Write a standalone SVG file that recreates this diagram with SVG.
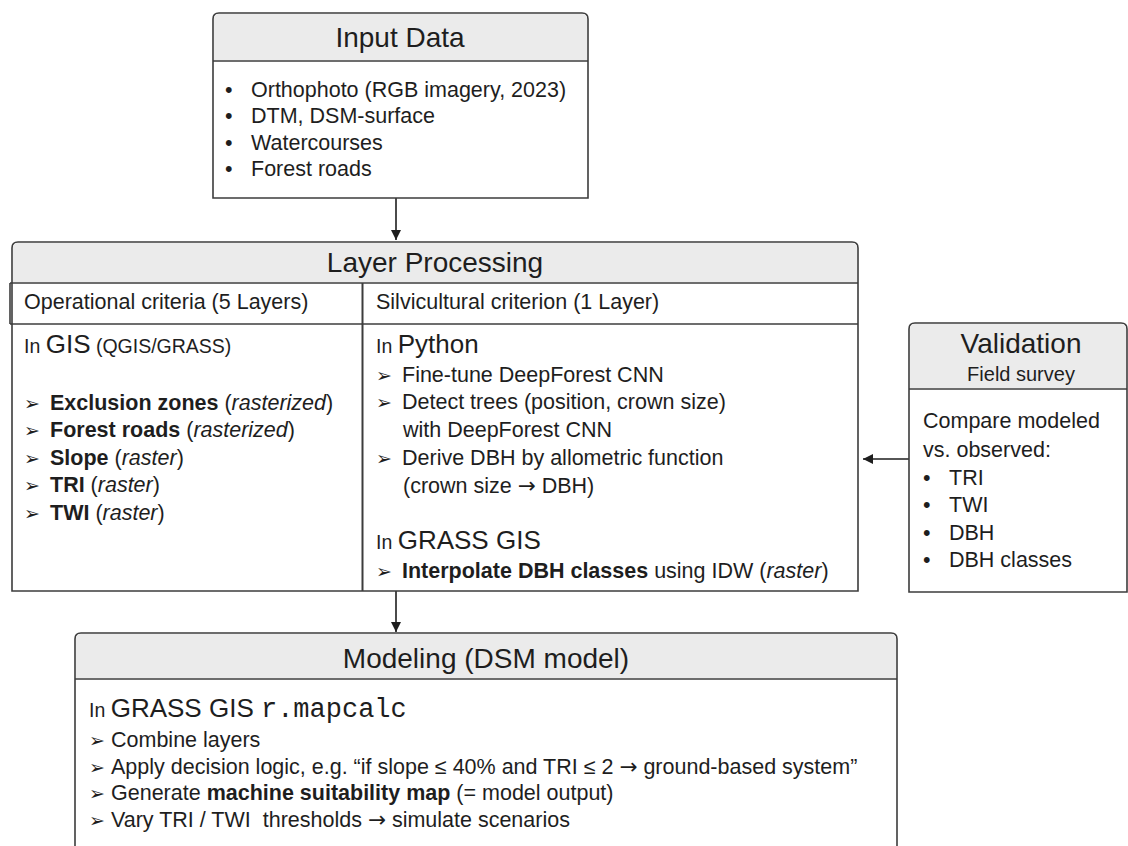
<svg xmlns="http://www.w3.org/2000/svg" width="1128" height="846" viewBox="0 0 1128 846">
<style>
.box{fill:#ffffff;stroke:#3c3c3c;stroke-width:1.6}
.hdr{fill:#ebebeb;stroke:none}
.ln{stroke:#3c3c3c;stroke-width:1.6;fill:none}
text{font-family:"Liberation Sans",Arial,sans-serif;fill:#1e1e1e}
.title{font-size:28px;text-anchor:middle}
.body{font-size:21.5px}
.small{font-size:19.5px}
.big{font-size:26px}
.b{font-weight:bold}
.i{font-style:italic}
.ar{font-family:"DejaVu Sans",sans-serif;font-size:19px;font-weight:bold}
.arr{font-family:"DejaVu Sans",sans-serif}
.mono{font-family:"Liberation Mono","Courier New",monospace;font-size:27px}
.conn{stroke:#1e1e1e;stroke-width:1.6;fill:none}
</style>
<defs>
<marker id="ah" viewBox="0 0 10 10" refX="10" refY="5" markerWidth="10" markerHeight="10" markerUnits="userSpaceOnUse" orient="auto">
<path d="M0,0 L10,5 L0,10 Z" fill="#1e1e1e"/>
</marker>
</defs>

<g id="connectors">
<line class="conn" x1="396" y1="198" x2="396" y2="240" marker-end="url(#ah)"/>
<line class="conn" x1="396" y1="591" x2="396" y2="632" marker-end="url(#ah)"/>
<line class="conn" x1="909" y1="459" x2="863" y2="459" marker-end="url(#ah)"/>
</g>

<g id="input-data">
<path class="box" d="M213,198 V19 Q213,13 219,13 H582 Q588,13 588,19 V198 Z"/>
<path class="hdr" d="M214,60 V19 Q214,14 219,14 H582 Q587,14 587,19 V60 Z"/>
<line class="ln" x1="213" y1="61" x2="588" y2="61"/>
<text class="title" x="400" y="47">Input Data</text>
<text class="body" x="225" y="97">•</text><text class="body" x="251" y="97">Orthophoto (RGB imagery, 2023)</text>
<text class="body" x="225" y="123">•</text><text class="body" x="251" y="123">DTM, DSM-surface</text>
<text class="body" x="225" y="149.5">•</text><text class="body" x="251" y="149.5">Watercourses</text>
<text class="body" x="225" y="176">•</text><text class="body" x="251" y="176">Forest roads</text>
</g>

<g id="layer-processing">
<path class="box" d="M12,591 V248 Q12,242 18,242 H852 Q858,242 858,248 V591 Z"/>
<path class="hdr" d="M13,282 V248 Q13,243 18,243 H852 Q857,243 857,248 V282 Z"/>
<line class="ln" x1="10" y1="283" x2="858" y2="283"/>
<line class="ln" x1="10" y1="324" x2="858" y2="324"/>
<line class="ln" x1="10" y1="283" x2="10" y2="324"/>
<line class="ln" x1="362.5" y1="283" x2="362.5" y2="591" style="stroke-width:2"/>
<text class="title" x="435" y="272">Layer Processing</text>
<text class="body" x="24" y="309">Operational criteria (5 Layers)</text>
<text class="body" x="376" y="309">Silvicultural criterion (1 Layer)</text>

<text x="24" y="353"><tspan class="small">In </tspan><tspan class="big">GIS</tspan><tspan class="small"> (QGIS/GRASS)</tspan></text>
<text class="ar" x="24" y="410">➢</text><text class="body" x="50" y="410"><tspan class="b">Exclusion zones</tspan> (<tspan class="i">rasterized</tspan>)</text>
<text class="ar" x="24" y="437">➢</text><text class="body" x="50" y="437"><tspan class="b">Forest roads</tspan> (<tspan class="i">rasterized</tspan>)</text>
<text class="ar" x="24" y="465">➢</text><text class="body" x="50" y="465"><tspan class="b">Slope</tspan> (<tspan class="i">raster</tspan>)</text>
<text class="ar" x="24" y="492">➢</text><text class="body" x="50" y="492"><tspan class="b">TRI</tspan> (<tspan class="i">raster</tspan>)</text>
<text class="ar" x="24" y="520">➢</text><text class="body" x="50" y="520"><tspan class="b">TWI</tspan> (<tspan class="i">raster</tspan>)</text>

<text x="376" y="353"><tspan class="small">In </tspan><tspan class="big">Python</tspan></text>
<text class="ar" x="376" y="382">➢</text><text class="body" x="402" y="382">Fine-tune DeepForest CNN</text>
<text class="ar" x="376" y="409">➢</text><text class="body" x="402" y="409">Detect trees (position, crown size)</text>
<text class="body" x="403" y="437">with DeepForest CNN</text>
<text class="ar" x="376" y="465">➢</text><text class="body" x="402" y="465">Derive DBH by allometric function</text>
<text class="body" x="403" y="493">(crown size <tspan class="arr">→</tspan> DBH)</text>
<text x="376" y="549"><tspan class="small">In </tspan><tspan class="big">GRASS GIS</tspan></text>
<text class="ar" x="376" y="578">➢</text><text class="body" x="402" y="578"><tspan class="b">Interpolate DBH classes</tspan> using IDW (<tspan class="i">raster</tspan>)</text>
</g>

<g id="validation">
<path class="box" d="M909,592 V329 Q909,323 915,323 H1121 Q1127,323 1127,329 V592 Z"/>
<path class="hdr" d="M910,388 V329 Q910,324 915,324 H1121 Q1126,324 1126,329 V388 Z"/>
<line class="ln" x1="909" y1="389" x2="1127" y2="389"/>
<text class="title" x="1021" y="353">Validation</text>
<text x="1021" y="381" text-anchor="middle" style="font-size:20px">Field survey</text>
<text class="body" x="923" y="428">Compare modeled</text>
<text class="body" x="923" y="457">vs. observed:</text>
<text class="body" x="923" y="485">•</text><text class="body" x="949" y="485">TRI</text>
<text class="body" x="923" y="512">•</text><text class="body" x="949" y="512">TWI</text>
<text class="body" x="923" y="540">•</text><text class="body" x="949" y="540">DBH</text>
<text class="body" x="923" y="567">•</text><text class="body" x="949" y="567">DBH classes</text>
</g>

<g id="modeling">
<path class="box" d="M75,852 V639 Q75,633 81,633 H891 Q897,633 897,639 V852 Z"/>
<path class="hdr" d="M76,678 V639 Q76,634 81,634 H891 Q896,634 896,639 V678 Z"/>
<line class="ln" x1="75" y1="679" x2="897" y2="679"/>
<text class="title" x="486" y="668">Modeling (DSM model)</text>
<text x="89" y="717"><tspan class="small">In </tspan><tspan class="big">GRASS GIS </tspan><tspan class="mono">r.mapcalc</tspan></text>
<text class="ar" x="89" y="747">➢</text><text class="body" x="111" y="747">Combine layers</text>
<text class="ar" x="89" y="774">➢</text><text class="body" x="111" y="774">Apply decision logic, e.g. “if slope ≤ 40% and TRI ≤ 2 <tspan class="arr">→</tspan> ground-based system”</text>
<text class="ar" x="89" y="800">➢</text><text class="body" x="111" y="800">Generate <tspan class="b">machine suitability map</tspan> (= model output)</text>
<text class="ar" x="89" y="827">➢</text><text class="body" x="111" y="827">Vary TRI / TWI&#160; thresholds <tspan class="arr">→</tspan> simulate scenarios</text>
</g>
</svg>
